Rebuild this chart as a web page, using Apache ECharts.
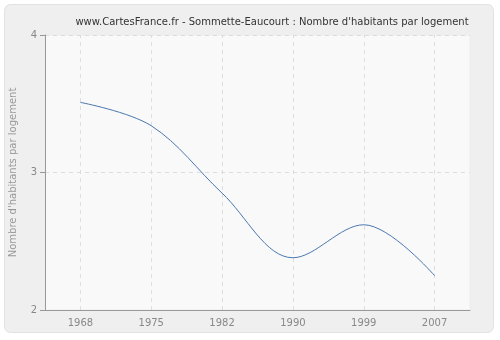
<!DOCTYPE html>
<html><head><meta charset="utf-8">
<script src="https://cdn.jsdelivr.net/npm/echarts@6/dist/echarts.min.js"></script>
<style>html,body{margin:0;padding:0;background:#fff;}#c{width:500px;height:340px;}</style>
</head><body><div id="c"></div>
<script>
var years = ['1968','1975','1982','1990','1999','2007'];
var values = [3.51, 3.34, 2.85, 2.38, 2.62, 2.25];
var yTicks = [2, 3, 4];
var title = "www.CartesFrance.fr - Sommette-Eaucourt : Nombre d'habitants par logement";
var yName = "Nombre d'habitants par logement";

var chart = echarts.init(document.getElementById('c'), null, {renderer:'canvas'});
chart.setOption({
  animation:false,
  backgroundColor:'#fff',
  graphic:[{type:'rect',z:-10,shape:{x:4.5,y:4.5,width:489,height:328,r:6},style:{fill:'#efefef',stroke:'#e2e2e2',lineWidth:1}}],
  title:{text:title,left:267,top:12,textAlign:'center',textStyle:{fontFamily:'DejaVu Sans',fontSize:10,fontWeight:'normal',color:'#333'}},
  grid:{left:40,right:30,top:35,bottom:30,show:true,backgroundColor:'#f9f9f9',borderColor:'#ececec',borderWidth:1},
  xAxis:{type:'category',data:years,boundaryGap:true,
    axisLine:{lineStyle:{color:'#999'}},
    axisTick:{alignWithLabel:true,length:5,lineStyle:{color:'#999'}},
    axisLabel:{color:'#888',fontFamily:'DejaVu Sans',fontSize:10,margin:8},
    splitLine:{show:false}},
  yAxis:{type:'value',min:yTicks[0],max:yTicks[yTicks.length-1],interval:1,
    name:yName,nameLocation:'middle',nameGap:27,
    nameTextStyle:{color:'#999',fontFamily:'DejaVu Sans',fontSize:10},
    axisLine:{show:true,lineStyle:{color:'#999'}},
    axisTick:{show:true,length:5,lineStyle:{color:'#999'}},
    axisLabel:{color:'#888',fontFamily:'DejaVu Sans',fontSize:10,margin:8},
    splitLine:{show:true,lineStyle:{color:'#ddd',type:[4,4]}}},
  series:[{type:'line',data:values,smooth:0.35,symbol:'none',lineStyle:{color:'#4a78b0',width:1},
    markLine:{silent:true,symbol:'none',label:{show:false},z:1,
      lineStyle:{color:'#ddd',type:[4,4],width:1},
      data:years.map(function(y){return {xAxis:y};})}}]
});
</script></body></html>
